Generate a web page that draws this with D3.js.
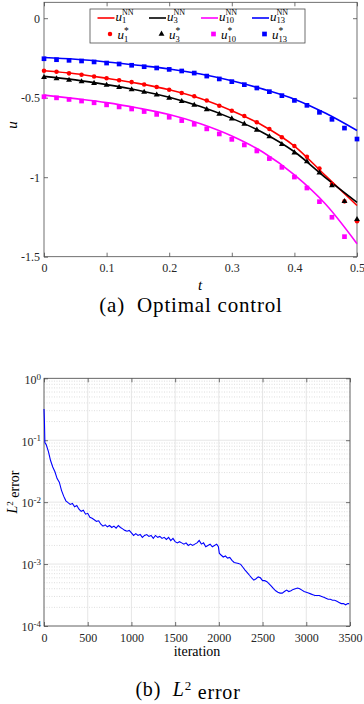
<!DOCTYPE html>
<html>
<head>
<meta charset="utf-8">
<script src="https://cdn.jsdelivr.net/npm/d3@7"></script>
<style>
  body { margin: 0; background: #fff; }
  svg text { font-family: "Liberation Serif", "Times New Roman", serif; fill: #000; }
  .axis path, .axis line { stroke: #4d4d4d; stroke-width: 0.8; }
  .axis text { fill: #262626; font-size: 12px; }
</style>
</head>
<body>
<div id="chart"></div>
<script>
// ---- (a) optimal control ----
// time grid of the reference values (markers)
var tPts = [0, 0.02, 0.04, 0.06, 0.08, 0.1, 0.12, 0.14, 0.16, 0.18, 0.2, 0.22, 0.24,
            0.26, 0.28, 0.3, 0.32, 0.34, 0.36, 0.38, 0.4, 0.42, 0.44, 0.46, 0.48, 0.5];
// time grid of the network curves
var tLine = [0, 0.05, 0.1, 0.15, 0.2, 0.25, 0.3, 0.35, 0.4, 0.45, 0.5];

var u1Line  = [-0.330, -0.349, -0.378, -0.410, -0.450, -0.505, -0.582, -0.676, -0.804, -0.992, -1.178];
var u3Line  = [-0.366, -0.388, -0.418, -0.453, -0.497, -0.556, -0.630, -0.720, -0.840, -1.004, -1.158];
var u10Line = [-0.484, -0.506, -0.531, -0.565, -0.606, -0.664, -0.741, -0.843, -0.985, -1.170, -1.418];
var u13Line = [-0.247, -0.258, -0.275, -0.296, -0.319, -0.351, -0.393, -0.446, -0.509, -0.598, -0.706];

var u1Pts  = [-0.330, -0.337, -0.347, -0.356, -0.366, -0.378, -0.390, -0.402, -0.417, -0.433, -0.450, -0.470, -0.491,
              -0.518, -0.550, -0.582, -0.615, -0.655, -0.697, -0.749, -0.804, -0.871, -0.946, -1.043, -1.152, -1.277];
var u3Pts  = [-0.372, -0.380, -0.389, -0.399, -0.409, -0.421, -0.435, -0.449, -0.465, -0.482, -0.502, -0.523, -0.547,
              -0.574, -0.603, -0.632, -0.665, -0.703, -0.745, -0.793, -0.846, -0.902, -0.972, -1.053, -1.152, -1.265];
// last point (t = 0.5) lies below the axes, not shown
var u10Pts = [-0.494, -0.501, -0.511, -0.521, -0.532, -0.545, -0.558, -0.571, -0.587, -0.605, -0.623, -0.644, -0.667,
              -0.696, -0.728, -0.762, -0.797, -0.835, -0.883, -0.938, -0.999, -1.068, -1.154, -1.252, -1.374];
var u13Pts = [-0.255, -0.261, -0.265, -0.269, -0.275, -0.282, -0.288, -0.296, -0.305, -0.313, -0.322, -0.332, -0.345,
              -0.364, -0.382, -0.399, -0.418, -0.439, -0.462, -0.487, -0.517, -0.548, -0.592, -0.636, -0.691, -0.760];

var tTicks = [0, 0.1, 0.2, 0.3, 0.4, 0.5];
var uTicks = [-1.5, -1, -0.5, 0];

// ---- (b) L2 error ----
var iters = [0, 5, 10, 25, 50, 75, 100, 125, 150, 175, 200, 225, 250, 275, 300, 325, 350, 375, 400, 425, 450, 475,
  500, 525, 550, 575, 600, 625, 650, 675, 700, 725, 750, 775, 800, 825, 850, 875, 900, 925, 950, 975,
  1000, 1025, 1050, 1075, 1100, 1125, 1150, 1175, 1200, 1225, 1250, 1275, 1300, 1325, 1350, 1375, 1400, 1425, 1450, 1475,
  1500, 1525, 1550, 1575, 1600, 1625, 1650, 1675, 1700, 1725, 1750, 1775, 1800, 1825, 1850, 1875, 1900, 1925, 1950, 1975,
  1995, 2005, 2025, 2050, 2075, 2100, 2125, 2150, 2175, 2200, 2225, 2250, 2275, 2300, 2325, 2350, 2375, 2400, 2425, 2450, 2475,
  2500, 2525, 2550, 2575, 2600, 2625, 2650, 2675, 2700, 2725, 2750, 2775, 2800, 2825, 2850, 2875, 2900, 2925, 2950, 2975,
  3000, 3025, 3050, 3075, 3100, 3125, 3150, 3175, 3200, 3225, 3250, 3275, 3300, 3325, 3350, 3375, 3400, 3425, 3450, 3475, 3490];
var errs = [0.32, 0.2, 0.092, 0.085, 0.066, 0.047, 0.037, 0.031, 0.024, 0.021, 0.0155, 0.0125, 0.0105, 0.0098, 0.0092, 0.0095, 0.0084, 0.0088, 0.0077, 0.0071, 0.0074, 0.0064,
  0.0066, 0.0057, 0.0055, 0.0052, 0.0049, 0.0050, 0.0044, 0.0041, 0.0043, 0.0040, 0.0042, 0.0039, 0.0041, 0.0038, 0.0042, 0.0039, 0.0037, 0.0035, 0.0034, 0.0035,
  0.0032, 0.0029, 0.0031, 0.0029, 0.0030, 0.0027, 0.0029, 0.0030, 0.0028, 0.0029, 0.0026, 0.0029, 0.0027, 0.0028, 0.0026, 0.0027, 0.0025, 0.0027, 0.0024, 0.0026,
  0.0023, 0.0022, 0.0023, 0.0022, 0.0021, 0.0022, 0.0020, 0.0021, 0.0020, 0.0021, 0.0022, 0.0024, 0.0021, 0.0022, 0.0019, 0.0020, 0.0021, 0.0019, 0.0020, 0.0021,
  0.0019, 0.0015, 0.0014, 0.0013, 0.00135, 0.00125, 0.00128, 0.00115, 0.00106, 0.00104, 0.00102, 0.00099, 0.00089, 0.00080, 0.00073, 0.00066, 0.00060, 0.00055, 0.00058, 0.00062, 0.00060,
  0.00054, 0.00054, 0.00052, 0.00048, 0.00044, 0.00040, 0.00037, 0.00035, 0.00034, 0.00034, 0.00036, 0.00038, 0.00036, 0.00037, 0.00039, 0.00040, 0.00041, 0.00040, 0.00038, 0.00036,
  0.00035, 0.00034, 0.00033, 0.00032, 0.00031, 0.00031, 0.00031, 0.00030, 0.00029, 0.00028, 0.00027, 0.00027, 0.00026, 0.00026, 0.00025, 0.00024, 0.00023, 0.00023, 0.00022, 0.00023, 0.00023];

var iterTicks = [0, 500, 1000, 1500, 2000, 2500, 3000, 3500];
var errTicks = [1e-4, 1e-3, 1e-2, 1e-1, 1];

var svg = d3.select("#chart")
  .append("svg")
    .attr("width", 364)
    .attr("height", 704)
    .style("display", "block");

// ================= panel (a) =================
var x = d3.scaleLinear().domain([0, 0.5]).range([44, 357]);
var y = d3.scaleLinear().domain([-1.5, 0.1]).range([256.7, 2.3]);

svg.append("rect")
  .attr("x", 44).attr("y", 2.3)
  .attr("width", 313).attr("height", 254.4)
  .attr("fill", "none").attr("stroke", "#4d4d4d").attr("stroke-width", 0.8);

svg.append("g").attr("class", "axis")
  .attr("transform", "translate(0,256.7)")
  .call(d3.axisBottom(x).tickValues(tTicks).tickSize(-4).tickPadding(7).tickFormat(d => String(d)));
svg.append("g").attr("class", "axis")
  .attr("transform", "translate(0,2.3)")
  .call(d3.axisTop(x).tickValues(tTicks).tickSize(-4).tickFormat(""));
svg.append("g").attr("class", "axis")
  .attr("transform", "translate(44,0)")
  .call(d3.axisLeft(y).tickValues(uTicks).tickSize(-4).tickPadding(4).tickFormat(d => String(d)));
svg.append("g").attr("class", "axis")
  .attr("transform", "translate(357,0)")
  .call(d3.axisRight(y).tickValues(uTicks).tickSize(-4).tickFormat(""));
svg.selectAll(".axis .domain").remove();

var series = [
  {line: u1Line,  pts: u1Pts,  color: "#ff0000", sym: "dot",  k: "1"},
  {line: u3Line,  pts: u3Pts,  color: "#000000", sym: "tri",  k: "3"},
  {line: u10Line, pts: u10Pts, color: "#ff00ff", sym: "sq",   k: "10"},
  {line: u13Line, pts: u13Pts, color: "#0000ff", sym: "sq",   k: "13"}
];

var line = d3.line()
  .x(function(d, i) { return x(tLine[i]); })
  .y(function(d) { return y(d); })
  .curve(d3.curveMonotoneX);

var symbolFor = function(s) {
  if (s == "dot") return d3.symbol().type(d3.symbolCircle).size(16);
  if (s == "tri") return d3.symbol().type(d3.symbolTriangle).size(15);
  return d3.symbol().type(d3.symbolSquare).size(22);
};

series.forEach(function(s) {
  svg.append("path")
    .datum(s.line)
    .attr("fill", "none")
    .attr("stroke", s.color)
    .attr("stroke-width", 1.6)
    .attr("d", line);
});
series.forEach(function(s) {
  svg.append("g")
    .selectAll("path")
    .data(s.pts)
    .join("path")
      .attr("transform", function(d, i) { return "translate(" + x(tPts[i]) + "," + y(d) + ")"; })
      .attr("fill", s.color)
      .attr("d", symbolFor(s.sym));
});

// legend
var leg = svg.append("g");
leg.append("rect")
  .attr("x", 90).attr("y", 9).attr("width", 215).attr("height", 34)
  .attr("fill", "#fff").attr("stroke", "#4d4d4d").attr("stroke-width", 0.8);
var colX = [97.5, 149, 201, 252];

// italic u with subscript k and superscript sup stacked above it (one text element)
var labelU = function(g, lx, ly, k, sup) {
  var t = g.append("text").attr("x", lx).attr("y", ly).attr("font-size", 13);
  t.append("tspan").attr("font-style", "italic").text("u");
  t.append("tspan").attr("dy", 2.5).attr("font-size", 8.5).text(k);
  t.append("tspan")
    .attr("dx", -4.25 * k.length)
    .attr("dy", -8)
    .attr("font-size", sup == "*" ? 9.5 : 8)
    .text(sup);
};

series.forEach(function(s, i) {
  var cx = colX[i];
  leg.append("line")
    .attr("x1", cx).attr("x2", cx + 17).attr("y1", 18).attr("y2", 18)
    .attr("stroke", s.color).attr("stroke-width", 1.6);
  labelU(leg, cx + 18, 20.5, s.k, "NN");
  leg.append("path")
    .attr("transform", "translate(" + (cx + 12.5) + ",34)")
    .attr("fill", s.color)
    .attr("d", symbolFor(s.sym));
  labelU(leg, cx + 20, 39, s.k, "*");
});

// axis labels and caption
svg.append("text").attr("x", 200).attr("y", 290)
  .attr("text-anchor", "middle").attr("font-size", 15).attr("font-style", "italic").text("t");
svg.append("text")
  .attr("transform", "translate(17,125) rotate(-90)")
  .attr("text-anchor", "middle").attr("font-size", 15).attr("font-style", "italic").text("u");
svg.append("text").attr("x", 191).attr("y", 312)
  .attr("text-anchor", "middle").attr("font-size", 21).attr("letter-spacing", 0.8)
  .attr("xml:space", "preserve").text("(a)  Optimal control");

// ================= panel (b) =================
var x2 = d3.scaleLinear().domain([0, 3500]).range([44, 350]);
var y2 = d3.scaleLog().domain([1e-4, 1]).range([626, 378.3]);

// grid: dotted minor lines, then solid major lines
var minor = y2.ticks().filter(function(d) { return errTicks.indexOf(d) < 0; });
svg.append("g").selectAll("line")
  .data(minor)
  .join("line")
    .attr("x1", 44).attr("x2", 350)
    .attr("y1", d => y2(d)).attr("y2", d => y2(d))
    .attr("stroke", "#c8c8c8").attr("stroke-width", 0.6).attr("stroke-dasharray", "1,1.5");
svg.append("g").selectAll("line")
  .data(errTicks)
  .join("line")
    .attr("x1", 44).attr("x2", 350)
    .attr("y1", d => y2(d)).attr("y2", d => y2(d))
    .attr("stroke", "#e0e0e0").attr("stroke-width", 0.8);
svg.append("g").selectAll("line")
  .data(iterTicks)
  .join("line")
    .attr("x1", d => x2(d)).attr("x2", d => x2(d))
    .attr("y1", 378.3).attr("y2", 626)
    .attr("stroke", "#e0e0e0").attr("stroke-width", 0.8);

svg.append("rect")
  .attr("x", 44).attr("y", 378.3)
  .attr("width", 306).attr("height", 247.7)
  .attr("fill", "none").attr("stroke", "#4d4d4d").attr("stroke-width", 0.8);

svg.append("g").attr("class", "axis")
  .attr("transform", "translate(0,626)")
  .call(d3.axisBottom(x2).tickValues(iterTicks).tickSize(-4).tickPadding(7).tickFormat(d => String(d)));
svg.append("g").attr("class", "axis")
  .attr("transform", "translate(0,378.3)")
  .call(d3.axisTop(x2).tickValues(iterTicks).tickSize(-4).tickFormat(""));
var yAx = svg.append("g").attr("class", "axis")
  .attr("transform", "translate(44,0)")
  .call(d3.axisLeft(y2).tickValues(errTicks).tickSize(-4).tickPadding(3).tickFormat(""));
svg.append("g").attr("class", "axis")
  .attr("transform", "translate(350,0)")
  .call(d3.axisRight(y2).tickValues(errTicks).tickSize(-4).tickFormat(""));
svg.selectAll(".axis .domain").remove();

// 10^k tick labels
yAx.selectAll(".tick text")
  .attr("dy", "0.4em")
  .each(function(d) {
    var t = d3.select(this);
    t.append("tspan").text("10");
    t.append("tspan").attr("dy", "-0.45em").attr("font-size", "9px")
      .text(String(Math.round(Math.log10(d))));
  });

svg.append("path")
  .datum(errs)
  .attr("fill", "none")
  .attr("stroke", "#0000ff")
  .attr("stroke-width", 1.1)
  .attr("d", d3.line()
    .x(function(d, i) { return x2(iters[i]); })
    .y(function(d) { return y2(d); })
  );

svg.append("text").attr("x", 197).attr("y", 656)
  .attr("text-anchor", "middle").attr("font-size", 14).text("iteration");
var yl = svg.append("text")
  .attr("transform", "translate(17,492) rotate(-90)")
  .attr("text-anchor", "middle").attr("font-size", 14);
yl.append("tspan").attr("font-style", "italic").text("L");
yl.append("tspan").attr("dy", "-0.45em").attr("font-size", 9).text("2");
yl.append("tspan").attr("dy", "0.45em").text(" error");

var cap = svg.append("text").attr("x", 188).attr("y", 696)
  .attr("text-anchor", "middle").attr("font-size", 20).attr("letter-spacing", 0.8)
  .attr("xml:space", "preserve");
cap.append("tspan").text("(b)  ");
cap.append("tspan").attr("font-style", "italic").text("L");
cap.append("tspan").attr("dy", "-0.45em").attr("font-size", 13).text("2");
cap.append("tspan").attr("dy", "0.45em").text(" error");
</script>
</body>
</html>
